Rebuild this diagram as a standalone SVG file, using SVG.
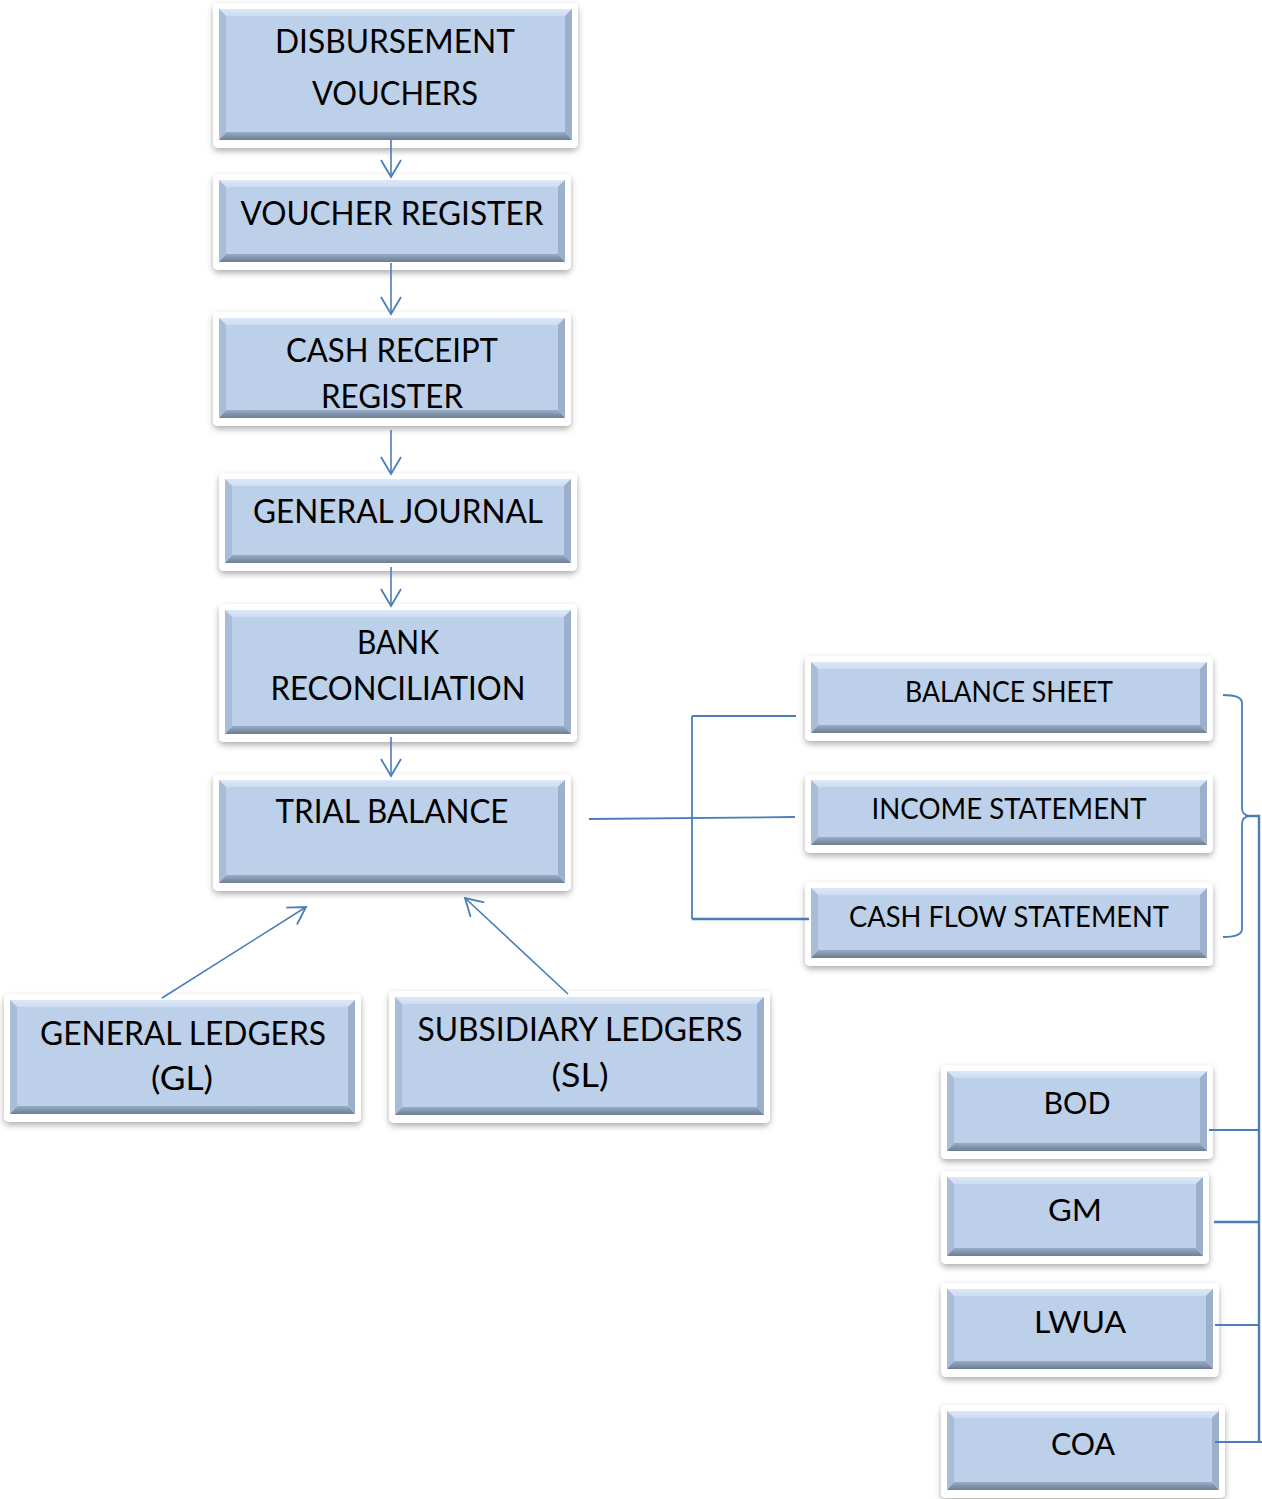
<svg xmlns="http://www.w3.org/2000/svg" width="1262" height="1499" viewBox="0 0 1262 1499">
  <defs>
    <filter id="shadow" x="-10%" y="-20%" width="120%" height="150%">
      <feDropShadow dx="0" dy="3" stdDeviation="3" flood-color="#000" flood-opacity="0.32"/>
    </filter>
    <linearGradient id="bevelBottom" x1="0" y1="0" x2="0" y2="1">
      <stop offset="0" stop-color="#9AADC7"/>
      <stop offset="1" stop-color="#6C7D94"/>
    </linearGradient>
    <linearGradient id="bevelTop" x1="0" y1="0" x2="0" y2="1">
      <stop offset="0" stop-color="#DCE8F8"/>
      <stop offset="1" stop-color="#CCDCF1"/>
    </linearGradient>
    <marker id="chevron" viewBox="-20 -12 22 24" markerWidth="22" markerHeight="24" refX="0" refY="0" orient="auto" markerUnits="userSpaceOnUse">
      <path d="M-17,-10 L0,0 L-17,10" fill="none" stroke="#4A7EBB" stroke-width="1.8"/>
    </marker>
    <style>
      .frame { fill: #FFFFFF; filter: url(#shadow); }
      .face { fill: #BDD0E9; }
      .bt { fill: url(#bevelTop); }
      .bb { fill: url(#bevelBottom); }
      .bl { fill: #A9BDD9; }
      .br { fill: #9CB0CC; }
      .lbl { font-family: "Lato", "Liberation Sans", sans-serif; font-size: 32px; fill: #000; text-anchor: middle; }
      .lbl-s { font-size: 28px; }
      .lbl-m { font-size: 31px; }
      .wire { fill: none; stroke: #4A7EBB; stroke-width: 1.8; }
      .wire-b { fill: none; stroke: #4A7EBB; stroke-width: 2.4; }
      .arrow { fill: none; stroke: #4A7EBB; stroke-width: 1.6; marker-end: url(#chevron); }
    </style>
  </defs>

  <rect width="1262" height="1499" fill="#FFFFFF"/>

  <!-- main processing column -->
  <g id="disbursement-vouchers">
    <g transform="translate(219,9)">
      <rect class="frame" x="-6" y="-6" width="365" height="145" rx="5"/>
      <rect class="face" width="353" height="131"/>
      <path class="bt" d="M0,0 H353 L346,7 H7 Z"/>
      <path class="bb" d="M0,131 H353 L346,123 H7 Z"/>
      <path class="bl" d="M0,0 L7,7 V123 L0,131 Z"/>
      <path class="br" d="M353,0 L346,7 V123 L353,131 Z"/>
    </g>
    <text class="lbl" x="395" y="53" textLength="240" lengthAdjust="spacingAndGlyphs">DISBURSEMENT</text>
    <text class="lbl" x="395" y="105" textLength="166" lengthAdjust="spacingAndGlyphs">VOUCHERS</text>
  </g>

  <g id="voucher-register">
    <g transform="translate(219,180)">
      <rect class="frame" x="-6" y="-6" width="358" height="96" rx="5"/>
      <rect class="face" width="346" height="82"/>
      <path class="bt" d="M0,0 H346 L339,7 H7 Z"/>
      <path class="bb" d="M0,82 H346 L339,74 H7 Z"/>
      <path class="bl" d="M0,0 L7,7 V74 L0,82 Z"/>
      <path class="br" d="M346,0 L339,7 V74 L346,82 Z"/>
    </g>
    <text class="lbl" x="392" y="225" textLength="303" lengthAdjust="spacingAndGlyphs">VOUCHER REGISTER</text>
  </g>

  <g id="cash-receipt-register">
    <g transform="translate(219,318)">
      <rect class="frame" x="-6" y="-6" width="358" height="114" rx="5"/>
      <rect class="face" width="346" height="100"/>
      <path class="bt" d="M0,0 H346 L339,7 H7 Z"/>
      <path class="bb" d="M0,100 H346 L339,92 H7 Z"/>
      <path class="bl" d="M0,0 L7,7 V92 L0,100 Z"/>
      <path class="br" d="M346,0 L339,7 V92 L346,100 Z"/>
    </g>
    <text class="lbl" x="392" y="362" textLength="212" lengthAdjust="spacingAndGlyphs">CASH RECEIPT</text>
    <text class="lbl" x="392" y="408" textLength="142" lengthAdjust="spacingAndGlyphs">REGISTER</text>
  </g>

  <g id="general-journal">
    <g transform="translate(225,479)">
      <rect class="frame" x="-6" y="-6" width="358" height="98" rx="5"/>
      <rect class="face" width="346" height="84"/>
      <path class="bt" d="M0,0 H346 L339,7 H7 Z"/>
      <path class="bb" d="M0,84 H346 L339,76 H7 Z"/>
      <path class="bl" d="M0,0 L7,7 V76 L0,84 Z"/>
      <path class="br" d="M346,0 L339,7 V76 L346,84 Z"/>
    </g>
    <text class="lbl" x="398" y="523" textLength="290" lengthAdjust="spacingAndGlyphs">GENERAL JOURNAL</text>
  </g>

  <g id="bank-reconciliation">
    <g transform="translate(225,610)">
      <rect class="frame" x="-6" y="-6" width="358" height="138" rx="5"/>
      <rect class="face" width="346" height="124"/>
      <path class="bt" d="M0,0 H346 L339,7 H7 Z"/>
      <path class="bb" d="M0,124 H346 L339,116 H7 Z"/>
      <path class="bl" d="M0,0 L7,7 V116 L0,124 Z"/>
      <path class="br" d="M346,0 L339,7 V116 L346,124 Z"/>
    </g>
    <text class="lbl" x="398" y="654" textLength="82" lengthAdjust="spacingAndGlyphs">BANK</text>
    <text class="lbl" x="398" y="700" textLength="255" lengthAdjust="spacingAndGlyphs">RECONCILIATION</text>
  </g>

  <g id="trial-balance">
    <g transform="translate(219,780)">
      <rect class="frame" x="-6" y="-6" width="358" height="117" rx="5"/>
      <rect class="face" width="346" height="103"/>
      <path class="bt" d="M0,0 H346 L339,7 H7 Z"/>
      <path class="bb" d="M0,103 H346 L339,95 H7 Z"/>
      <path class="bl" d="M0,0 L7,7 V95 L0,103 Z"/>
      <path class="br" d="M346,0 L339,7 V95 L346,103 Z"/>
    </g>
    <text class="lbl" x="392" y="823" textLength="233" lengthAdjust="spacingAndGlyphs">TRIAL BALANCE</text>
  </g>

  <!-- ledgers -->
  <g id="general-ledgers">
    <g transform="translate(10,1000)">
      <rect class="frame" x="-6" y="-6" width="357" height="128" rx="5"/>
      <rect class="face" width="345" height="114"/>
      <path class="bt" d="M0,0 H345 L338,7 H7 Z"/>
      <path class="bb" d="M0,114 H345 L338,106 H7 Z"/>
      <path class="bl" d="M0,0 L7,7 V106 L0,114 Z"/>
      <path class="br" d="M345,0 L338,7 V106 L345,114 Z"/>
    </g>
    <text class="lbl" x="183" y="1045" textLength="286" lengthAdjust="spacingAndGlyphs">GENERAL LEDGERS</text>
    <text class="lbl" x="182" y="1090" textLength="62" lengthAdjust="spacingAndGlyphs">(GL)</text>
  </g>

  <g id="subsidiary-ledgers">
    <g transform="translate(395,997)">
      <rect class="frame" x="-6" y="-6" width="381" height="132" rx="5"/>
      <rect class="face" width="369" height="118"/>
      <path class="bt" d="M0,0 H369 L362,7 H7 Z"/>
      <path class="bb" d="M0,118 H369 L362,110 H7 Z"/>
      <path class="bl" d="M0,0 L7,7 V110 L0,118 Z"/>
      <path class="br" d="M369,0 L362,7 V110 L369,118 Z"/>
    </g>
    <text class="lbl" x="580" y="1041" textLength="325" lengthAdjust="spacingAndGlyphs">SUBSIDIARY LEDGERS</text>
    <text class="lbl" x="580" y="1087" textLength="57" lengthAdjust="spacingAndGlyphs">(SL)</text>
  </g>

  <!-- financial statements -->
  <g id="balance-sheet">
    <g transform="translate(811,662)">
      <rect class="frame" x="-6" y="-6" width="408" height="85" rx="5"/>
      <rect class="face" width="396" height="71"/>
      <path class="bt" d="M0,0 H396 L389,7 H7 Z"/>
      <path class="bb" d="M0,71 H396 L389,63 H7 Z"/>
      <path class="bl" d="M0,0 L7,7 V63 L0,71 Z"/>
      <path class="br" d="M396,0 L389,7 V63 L396,71 Z"/>
    </g>
    <text class="lbl lbl-s" x="1009" y="702" textLength="208" lengthAdjust="spacingAndGlyphs">BALANCE SHEET</text>
  </g>

  <g id="income-statement">
    <g transform="translate(811,780)">
      <rect class="frame" x="-6" y="-6" width="408" height="79" rx="5"/>
      <rect class="face" width="396" height="65"/>
      <path class="bt" d="M0,0 H396 L389,7 H7 Z"/>
      <path class="bb" d="M0,65 H396 L389,57 H7 Z"/>
      <path class="bl" d="M0,0 L7,7 V57 L0,65 Z"/>
      <path class="br" d="M396,0 L389,7 V57 L396,65 Z"/>
    </g>
    <text class="lbl lbl-s" x="1009" y="819" textLength="275" lengthAdjust="spacingAndGlyphs">INCOME STATEMENT</text>
  </g>

  <g id="cash-flow-statement">
    <g transform="translate(811,888)">
      <rect class="frame" x="-6" y="-6" width="408" height="84" rx="5"/>
      <rect class="face" width="396" height="70"/>
      <path class="bt" d="M0,0 H396 L389,7 H7 Z"/>
      <path class="bb" d="M0,70 H396 L389,62 H7 Z"/>
      <path class="bl" d="M0,0 L7,7 V62 L0,70 Z"/>
      <path class="br" d="M396,0 L389,7 V62 L396,70 Z"/>
    </g>
    <text class="lbl lbl-s" x="1009" y="927" textLength="320" lengthAdjust="spacingAndGlyphs">CASH FLOW STATEMENT</text>
  </g>

  <!-- recipients -->
  <g id="bod">
    <g transform="translate(947,1071)">
      <rect class="frame" x="-6" y="-6" width="272" height="94" rx="5"/>
      <rect class="face" width="260" height="80"/>
      <path class="bt" d="M0,0 H260 L253,7 H7 Z"/>
      <path class="bb" d="M0,80 H260 L253,72 H7 Z"/>
      <path class="bl" d="M0,0 L7,7 V72 L0,80 Z"/>
      <path class="br" d="M260,0 L253,7 V72 L260,80 Z"/>
    </g>
    <text class="lbl lbl-m" x="1077" y="1114" textLength="67" lengthAdjust="spacingAndGlyphs">BOD</text>
  </g>

  <g id="gm">
    <g transform="translate(947,1177)">
      <rect class="frame" x="-6" y="-6" width="268" height="93" rx="5"/>
      <rect class="face" width="256" height="79"/>
      <path class="bt" d="M0,0 H256 L249,7 H7 Z"/>
      <path class="bb" d="M0,79 H256 L249,71 H7 Z"/>
      <path class="bl" d="M0,0 L7,7 V71 L0,79 Z"/>
      <path class="br" d="M256,0 L249,7 V71 L256,79 Z"/>
    </g>
    <text class="lbl lbl-m" x="1075" y="1221" textLength="54" lengthAdjust="spacingAndGlyphs">GM</text>
  </g>

  <g id="lwua">
    <g transform="translate(947,1289)">
      <rect class="frame" x="-6" y="-6" width="278" height="94" rx="5"/>
      <rect class="face" width="266" height="80"/>
      <path class="bt" d="M0,0 H266 L259,7 H7 Z"/>
      <path class="bb" d="M0,80 H266 L259,72 H7 Z"/>
      <path class="bl" d="M0,0 L7,7 V72 L0,80 Z"/>
      <path class="br" d="M266,0 L259,7 V72 L266,80 Z"/>
    </g>
    <text class="lbl lbl-m" x="1080" y="1333" textLength="92" lengthAdjust="spacingAndGlyphs">LWUA</text>
  </g>

  <g id="coa">
    <g transform="translate(947,1411)">
      <rect class="frame" x="-6" y="-6" width="284" height="93" rx="5"/>
      <rect class="face" width="272" height="79"/>
      <path class="bt" d="M0,0 H272 L265,7 H7 Z"/>
      <path class="bb" d="M0,79 H272 L265,71 H7 Z"/>
      <path class="bl" d="M0,0 L7,7 V71 L0,79 Z"/>
      <path class="br" d="M272,0 L265,7 V71 L272,79 Z"/>
    </g>
    <text class="lbl lbl-m" x="1083" y="1455" textLength="64" lengthAdjust="spacingAndGlyphs">COA</text>
  </g>

  <!-- connectors -->
  <g id="connectors">
    <!-- column flow -->
    <path class="arrow" d="M391,140 V177"/>
    <path class="arrow" d="M391,263 V314"/>
    <path class="arrow" d="M391,430 V474"/>
    <path class="arrow" d="M391,567 V606"/>
    <path class="arrow" d="M391,737 V776"/>
    <!-- ledgers into trial balance -->
    <path class="arrow" d="M162,998 L306,907"/>
    <path class="arrow" d="M568,994 L465,898"/>
    <!-- trial balance to statements -->
    <path class="wire" d="M589,819 L795,817"/>
    <path class="wire" d="M692,716 V919"/>
    <path class="wire" d="M692,716 H796"/>
    <path class="wire-b" d="M692,919 H809"/>
    <!-- statements grouped by brace -->
    <path class="wire" d="M1223,695 Q1242,695 1242,703 V808 Q1242,815 1249,816 Q1242,817 1242,824 V929 Q1242,937 1223,937"/>
    <path class="wire-b" d="M1249,816 H1259 V1442"/>
    <path class="wire" d="M1209,1130 H1259"/>
    <path class="wire-b" d="M1214,1222 H1259"/>
    <path class="wire" d="M1215,1325 H1259"/>
    <path class="wire" d="M1215,1442 H1262"/>
  </g>
</svg>
